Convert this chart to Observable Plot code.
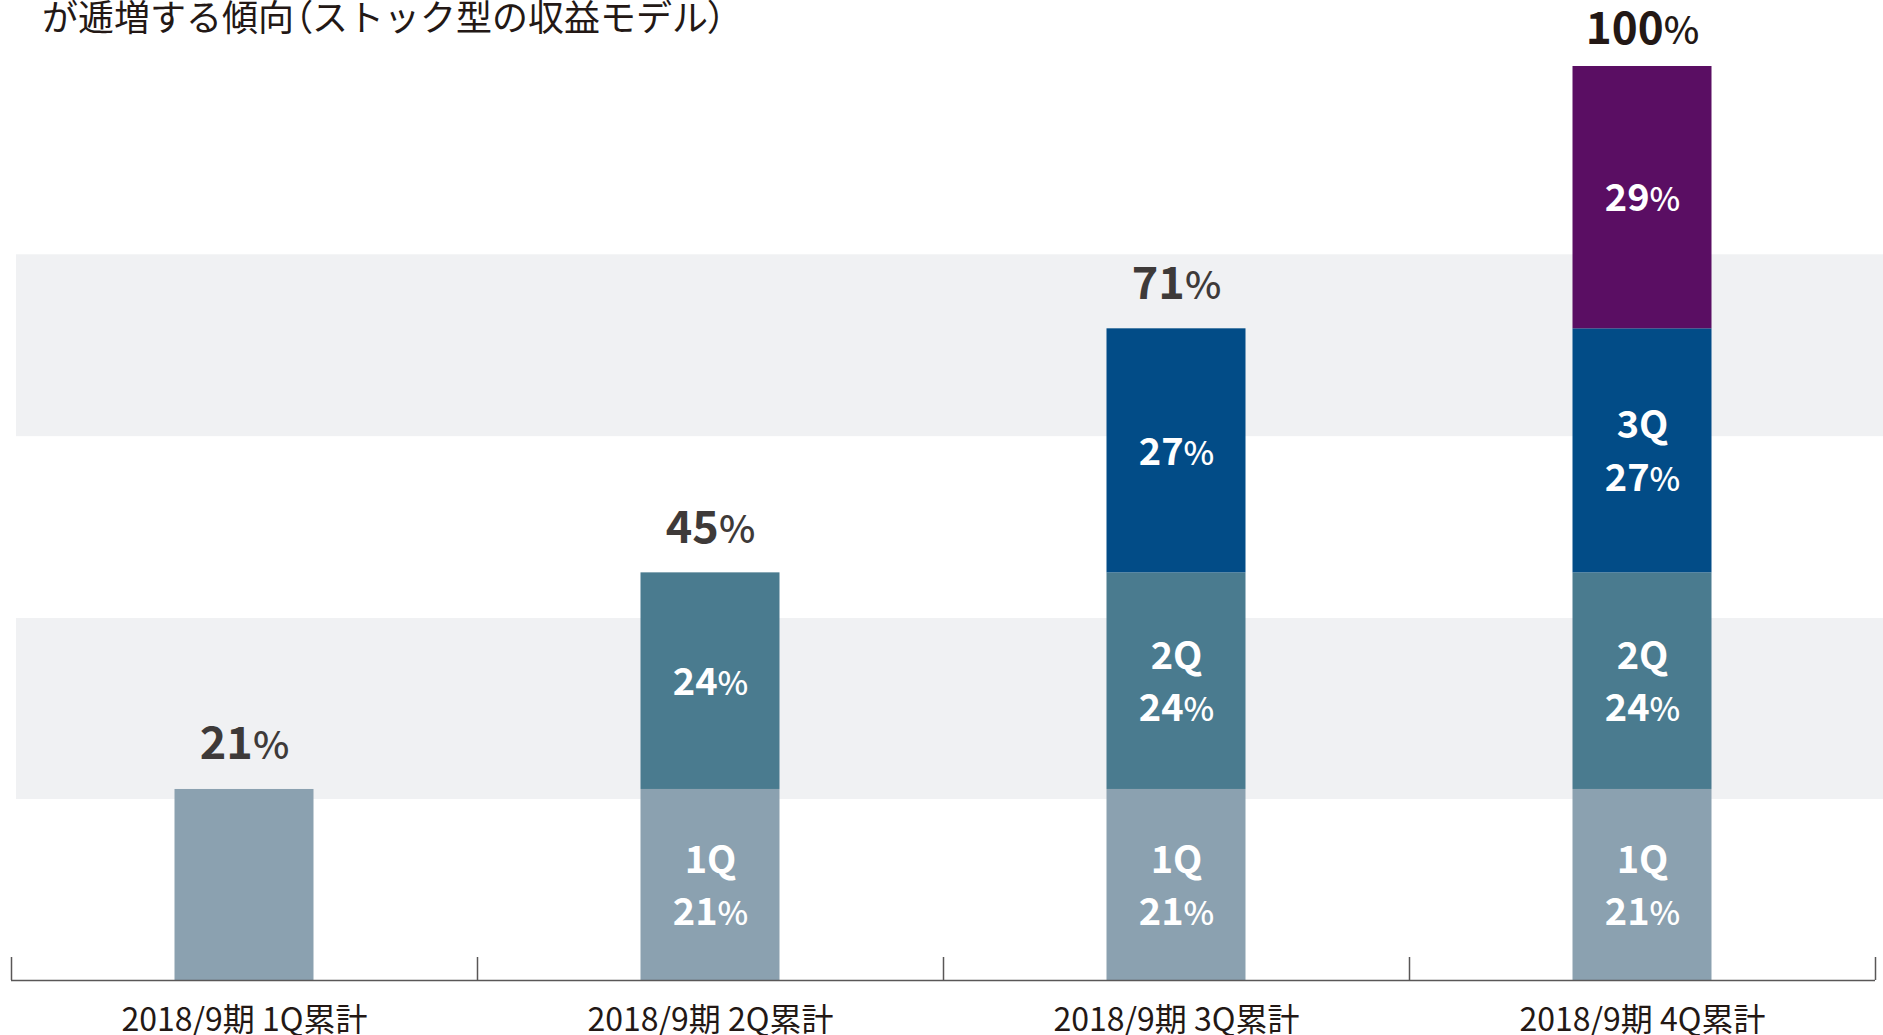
<!DOCTYPE html>
<html><head><meta charset="utf-8">
<script src="https://cdn.jsdelivr.net/npm/d3@7"></script>
<script src="https://cdn.jsdelivr.net/npm/@observablehq/plot@0.6"></script>
<style>
html,body{margin:0;padding:0;background:#fff;overflow:hidden;}
#wrap{position:relative;width:1883px;height:1035px;}
#title{position:absolute;left:42px;top:-3px;font-family:"Noto Sans CJK JP";font-size:36px;line-height:36px;color:#231815;white-space:nowrap;z-index:2;}
#title .p{font-feature-settings:"palt";}
#chart{position:absolute;left:0;top:0;}
</style></head><body>
<div id="wrap"><div id="title">が逓増する傾向<span class="p">（</span>ストック型の収益モデル<span class="p">）</span></div><div id="chart"></div></div>
<script>
const categories = ["2018/9期 1Q累計", "2018/9期 2Q累計", "2018/9期 3Q累計", "2018/9期 4Q累計"];
const quarters = ["1Q", "2Q", "3Q", "4Q"];
const quarterShares = [20.9, 23.7, 26.7, 28.7];
const stripeBands = [[19.8, 39.6], [59.5, 79.4]];
const quarterColors = ["#8ba1b0", "#4a7b8f", "#024c87", "#5a0e63"];

// build stacked segments: column c contains quarters 0..c
const segments = [];
const totals = [];
for (let c = 0; c < categories.length; c++) {
  let acc = 0;
  for (let q = 0; q <= c; q++) {
    const v = quarterShares[q];
    let label = "";
    if (q === c) label = c > 0 ? `${Math.round(v)}%` : "";
    else label = `${quarters[q]}\n${Math.round(v)}%`;
    segments.push({col: c, q, y1: acc, y2: acc + v, label});
    acc += v;
  }
  totals.push({col: c, total: acc, label: `${Math.round(acc)}%`});
}
const lastCol = categories.length - 1;

const chart = Plot.plot({
  width: 1883,
  height: 1035,
  marginLeft: 11,
  marginRight: 8,
  marginTop: 66,
  marginBottom: 55,
  x: {type: "linear", domain: [0, categories.length], ticks: categories.map((d, i) => i + 0.5),
      tickFormat: d => categories[Math.floor(d)], tickSize: 0, tickPadding: 28, label: null},
  y: {domain: [0, 100], axis: null},
  color: {domain: quarters, range: quarterColors},
  style: {fontFamily: "'Noto Sans CJK JP', 'Noto Sans', sans-serif", fontSize: "32px", color: "#231815", background: "transparent", overflow: "visible"},
  marks: [
    Plot.rect(stripeBands, {y1: d => d[0], y2: d => d[1], fill: "#f0f1f3", insetLeft: 5, insetRight: -8}),
    Plot.rectY(segments, {x1: d => d.col, x2: d => d.col + 1, y1: "y1", y2: "y2", fill: d => quarters[d.q], insetLeft: 163.5, insetRight: 163.5}),
    Plot.ruleY([0], {stroke: "#595757", strokeWidth: 1.5}),
    Plot.ruleX(d3.range(categories.length + 1), {y1: 0, y2: 0, insetTop: -23, stroke: "#595757", strokeWidth: 1.5}),
    Plot.text(segments.filter(d => d.label), {x: d => d.col + 0.5, y: d => (d.y1 + d.y2) / 2, text: "label",
      fill: "white", fontSize: 38, fontWeight: "bold", lineHeight: 1.37, dy: -3}),
    Plot.text(totals.filter(d => d.col < lastCol), {x: d => d.col + 0.5, y: "total", text: "label", lineAnchor: "bottom", dy: -30,
      fill: "#3e3a39", fontSize: 45, fontWeight: "bold"}),
    Plot.text(totals.filter(d => d.col === lastCol), {x: d => d.col + 0.5, y: "total", text: "label", lineAnchor: "bottom", dy: -23,
      fill: "#231815", fontSize: 44, fontWeight: "bold"})
  ]
});

// render the percent sign slightly smaller and lighter, as in the original
const walker = document.createTreeWalker(chart, NodeFilter.SHOW_TEXT);
const nodes = [];
while (walker.nextNode()) nodes.push(walker.currentNode);
for (const n of nodes) {
  const s = n.nodeValue;
  const i = s.indexOf("%");
  if (i < 0) continue;
  const parent = n.parentNode;
  const span = document.createElementNS("http://www.w3.org/2000/svg", "tspan");
  span.setAttribute("font-size", "0.86em");
  span.setAttribute("font-weight", "500");
  span.textContent = "%";
  parent.insertBefore(document.createTextNode(s.slice(0, i)), n);
  parent.insertBefore(span, n);
  parent.insertBefore(document.createTextNode(s.slice(i + 1)), n);
  parent.removeChild(n);
}
document.getElementById("chart").appendChild(chart);
</script>
</body></html>
